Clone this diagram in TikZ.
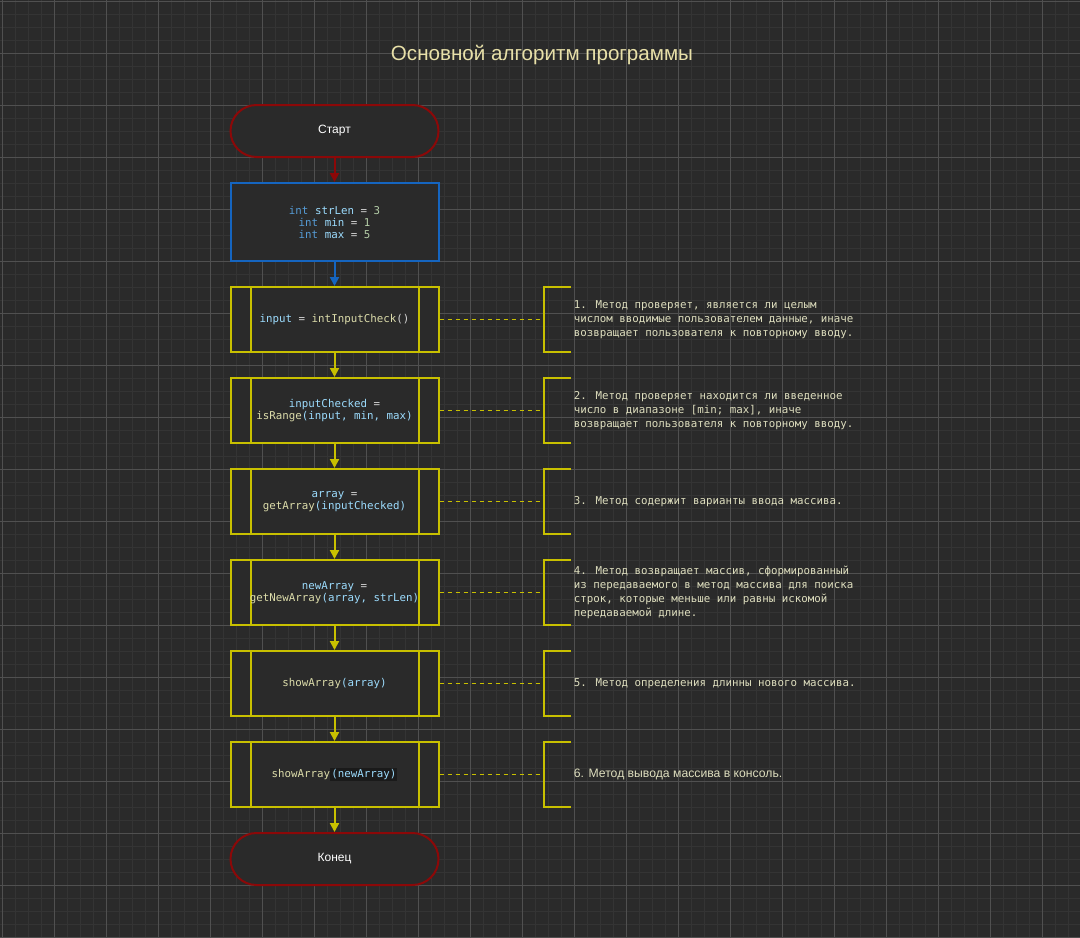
\documentclass[tikz,border=0pt]{standalone}
\usepackage{fontspec}
\setmainfont{Liberation Sans}
\newfontfamily\codefont{DejaVu Sans Mono}
\usetikzlibrary{arrows.meta, positioning}

\definecolor{bgcol}{RGB}{42,42,42}
\definecolor{gridminor}{RGB}{52,52,52}
\definecolor{gridmajor}{RGB}{80,80,80}
\definecolor{termred}{RGB}{140,8,8}
\definecolor{initblue}{RGB}{21,101,192}
\definecolor{procyellow}{RGB}{200,192,0}
\definecolor{titlecol}{RGB}{232,224,168}
\definecolor{notecol}{RGB}{222,222,190}
\definecolor{cvar}{RGB}{156,220,254}
\definecolor{cfn}{RGB}{220,220,170}
\definecolor{cop}{RGB}{212,212,212}
\definecolor{ckw}{RGB}{86,156,214}
\definecolor{cnum}{RGB}{181,206,168}
\definecolor{hlcol}{RGB}{26,26,26}
\setlength{\fboxsep}{0.5pt}

\newcommand{\codevar}[1]{\textcolor{cvar}{#1}}
\newcommand{\codefn}[1]{\textcolor{cfn}{#1}}
\newcommand{\codeop}[1]{\textcolor{cop}{#1}}
\newcommand{\codekw}[1]{\textcolor{ckw}{#1}}
\newcommand{\codenum}[1]{\textcolor{cnum}{#1}}

\begin{document}
\begin{tikzpicture}[
    x=0.5pt, y=-0.5pt,
    node distance=12pt,
    every node/.style={font=\fontsize{6pt}{7pt}\selectfont},
    termblock/.style={rectangle, draw=termred, fill=bgcol, line width=1pt, rounded corners=13pt, minimum width=104pt, minimum height=26pt, text=white},
    initblock/.style={rectangle, draw=initblue, fill=bgcol, line width=1pt, minimum width=104pt, minimum height=39pt, align=center, font=\codefont\fontsize{5.4pt}{6pt}\selectfont},
    procblock/.style={rectangle, draw=procyellow, fill=bgcol, line width=1pt, minimum width=104pt, minimum height=32.5pt, align=center, font=\codefont\fontsize{5.4pt}{6pt}\selectfont,
        path picture={\draw[procyellow, line width=1pt] ([xshift=10pt]path picture bounding box.north west) -- ([xshift=10pt]path picture bounding box.south west) ([xshift=-10pt]path picture bounding box.north east) -- ([xshift=-10pt]path picture bounding box.south east);}},
    noteblock/.style={rectangle, minimum height=32.5pt, inner xsep=15pt, inner ysep=0pt, align=left, text=notecol, font=\codefont\fontsize{5.4pt}{7pt}\selectfont},
    arrow/.style={-{Triangle[width=4.5pt, length=4.5pt]}, line width=1pt, draw=#1, fill=#1},
    notelink/.style={procyellow, line width=0.7pt, dash pattern=on 2pt off 2pt},
    bracket/.style={procyellow, line width=1pt}
]

\useasboundingbox (0,0) rectangle (1080,937);
\fill[bgcol] (0,0) rectangle (1080,937);

% grid
\foreach \gx in {2,15,...,1080} \draw[gridminor, line width=0.5pt] (\gx,0) -- (\gx,937);
\foreach \gy in {1,14,...,937} \draw[gridminor, line width=0.5pt] (0,\gy) -- (1080,\gy);
\foreach \gx in {2,54,...,1080} \draw[gridmajor, line width=0.5pt] (\gx,0) -- (\gx,937);
\foreach \gy in {1,53,...,937} \draw[gridmajor, line width=0.5pt] (0,\gy) -- (1080,\gy);

\node[font=\fontsize{10.3pt}{12pt}\selectfont, text=titlecol] (title) at (542,55) {Основной алгоритм программы};

\node[termblock] (start) at (334.5,131) {Старт};
\node[initblock, below=of start] (init) {
\codekw{int} \codevar{strLen} \codeop{=} \codenum{3}\\
\codekw{int} \codevar{min} \codeop{=} \codenum{1}\\
\codekw{int} \codevar{max} \codeop{=} \codenum{5}
};
\node[procblock, below=of init] (p1) {\codevar{input} \codeop{=} \codefn{intInputCheck}\codeop{()}};
\node[procblock, below=of p1] (p2) {\codevar{inputChecked} \codeop{=}\\ \codefn{isRange}\codevar{(input, min, max)}};
\node[procblock, below=of p2] (p3) {\codevar{array} \codeop{=}\\ \codefn{getArray}\codevar{(inputChecked)}};
\node[procblock, below=of p3] (p4) {\codevar{newArray} \codeop{=}\\ \codefn{getNewArray}\codevar{(array, strLen)}};
\node[procblock, below=of p4] (p5) {\codefn{showArray}\codevar{(array)}};
\node[procblock, below=of p5] (p6) {\codefn{showArray}\colorbox{hlcol}{\codevar{(newArray)}}};
\node[termblock, below=of p6] (stop) {Конец};

% notes
\node[noteblock, right=52pt of p1] (n1) {1. Метод проверяет, является ли целым\\ числом вводимые пользователем данные, иначе\\ возвращает пользователя к повторному вводу.};
\node[noteblock, right=52pt of p2] (n2) {2. Метод проверяет находится ли введенное\\ число в диапазоне [min; max], иначе\\ возвращает пользователя к повторному вводу.};
\node[noteblock, right=52pt of p3] (n3) {3. Метод содержит варианты ввода массива.};
\node[noteblock, right=52pt of p4] (n4) {4. Метод возвращает массив, сформированный\\ из передаваемого в метод массива для поиска\\ строк, которые меньше или равны искомой\\ передаваемой длине.};
\node[noteblock, right=52pt of p5] (n5) {5. Метод определения длинны нового массива.};
\node[noteblock, right=52pt of p6, font=\fontsize{6.1pt}{7pt}\selectfont] (n6) {6. Метод вывода массива в консоль.};

\draw[arrow=termred] (start) -- (init);
\draw[arrow=initblue] (init) -- (p1);
\foreach \a/\b in {p1/p2, p2/p3, p3/p4, p4/p5, p5/p6, p6/stop}
    \draw[arrow=procyellow] (\a) -- (\b);

\foreach \i in {1,...,6} {
    \draw[notelink] (p\i.east) -- (n\i.west);
    \draw[bracket] ([xshift=13.5pt]n\i.north west) -- (n\i.north west) -- (n\i.south west) -- ([xshift=13.5pt]n\i.south west);
}

\end{tikzpicture}
\end{document}
